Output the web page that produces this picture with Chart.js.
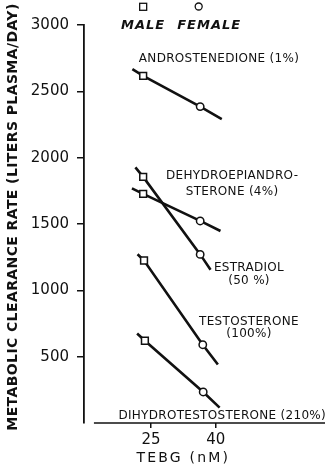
<!DOCTYPE html>
<html>
<head>
<meta charset="utf-8">
<script src="https://cdn.jsdelivr.net/npm/chart.js@4.4.1/dist/chart.umd.min.js"></script>
<style>
  html, body { margin: 0; padding: 0; background: #fff; }
  canvas { display: block; }
</style>
</head>
<body>
<canvas id="mcr" width="329" height="469"></canvas>
<script>
// Steroids and their relative binding to TEBG
const compounds = ['Androstenedione', 'Dehydroepiandrosterone', 'Estradiol', 'Testosterone', 'Dihydrotestosterone'];
const compoundLabels = ['ANDROSTENEDIONE (1%)', 'DEHYDROEPIANDRO-\nSTERONE (4%)', 'ESTRADIOL\n(50 %)', 'TESTOSTERONE\n(100%)', 'DIHYDROTESTOSTERONE (210%)'];

// Mean TEBG (nM) and metabolic clearance rate (liters plasma/day)
const maleTebg   = [23.2, 23.2, 23.2, 23.4, 23.6];
const femaleTebg = [36.4, 36.4, 36.4, 37.0, 37.1];
const maleMcr    = [2617, 1727, 1855, 1225, 620];
const femaleMcr  = [2385, 1523, 1271, 590, 234];

// Extent of each fitted line
const lineStartTebg = [20.7, 20.6, 21.4, 21.9, 21.8];
const lineStartMcr  = [2668, 1768, 1927, 1272, 675];
const lineEndTebg   = [41.4, 41.1, 38.8, 40.5, 40.9];
const lineEndMcr    = [2290, 1447, 1155, 441, 116];

// Axis ticks
const xTicks = [25, 40];
const yTicks = [500, 1000, 1500, 2000, 2500, 3000];

// Where each compound name sits (data units): x, y per text line, alignment
const labelPlacement = [
  { x: 22.2, ys: [2746], align: 'left' },
  { x: 43.8, ys: [1861, 1742], align: 'center' },
  { x: 47.7, ys: [1169, 1074], align: 'center' },
  { x: 47.7, ys: [766, 671], align: 'center' },
  { x: 41.5, ys: [53], align: 'center' }
];

const INK = '#111';
const FONT = '"DejaVu Sans", "Liberation Sans", sans-serif';

const datasets = compounds.map((name, i) => ({
  label: name,
  data: [
    { x: lineStartTebg[i], y: lineStartMcr[i] },
    { x: maleTebg[i], y: maleMcr[i] },
    { x: femaleTebg[i], y: femaleMcr[i] },
    { x: lineEndTebg[i], y: lineEndMcr[i] }
  ],
  showLine: true,
  borderColor: INK,
  borderWidth: 2.6,
  pointStyle: ['circle', 'rect', 'circle', 'circle'],
  pointRadius: [0, 4.8, 3.7, 0],
  pointBackgroundColor: '#fff',
  pointBorderColor: INK,
  pointBorderWidth: 1.5,
  tension: 0
}));

function spaced(ctx, px) {
  if ('letterSpacing' in ctx) ctx.letterSpacing = px + 'px';
}

const decorations = {
  id: 'decorations',
  afterDatasetsDraw(chart) {
    const { ctx, chartArea, scales: { x, y } } = chart;
    ctx.save();
    ctx.fillStyle = INK;
    ctx.strokeStyle = INK;

    // x axis baseline, detached from the vertical axis
    ctx.lineWidth = 1.5;
    ctx.beginPath();
    ctx.moveTo(x.getPixelForValue(11.8), chartArea.bottom);
    ctx.lineTo(chartArea.right, chartArea.bottom);
    ctx.stroke();

    // compound names
    ctx.font = '12px ' + FONT;
    spaced(ctx, 0.3);
    ctx.textBaseline = 'middle';
    compoundLabels.forEach((txt, i) => {
      const p = labelPlacement[i];
      ctx.textAlign = p.align;
      txt.split('\n').forEach((line, k) => {
        ctx.fillText(line, x.getPixelForValue(p.x), y.getPixelForValue(p.ys[k]));
      });
    });

    // key: male square, female circle
    const mx = x.getPixelForValue(maleTebg[0]);
    const fx = x.getPixelForValue(femaleTebg[0]);
    ctx.lineWidth = 1.3;
    ctx.strokeRect(mx - 3.5, 3.3, 7, 7);
    ctx.beginPath();
    ctx.arc(fx - 1.5, 6.5, 3.5, 0, Math.PI * 2);
    ctx.stroke();
    ctx.font = 'italic bold 13px ' + FONT;
    spaced(ctx, 1);
    ctx.textAlign = 'center';
    ctx.fillText('MALE', mx, 26);
    ctx.fillText('FEMALE', fx + 9, 26);

    // axis titles
    ctx.font = '14px ' + FONT;
    spaced(ctx, 2.2);
    ctx.fillText('TEBG (nM)', x.getPixelForValue(32.5), chartArea.bottom + 35.5);

    ctx.save();
    ctx.translate(13, 217);
    ctx.rotate(-Math.PI / 2);
    ctx.font = 'bold 14px ' + FONT;
    spaced(ctx, 0.4);
    ctx.fillText('METABOLIC CLEARANCE RATE (LITERS PLASMA/DAY)', 0, 0);
    ctx.restore();

    ctx.restore();
  }
};

new Chart(document.getElementById('mcr'), {
  type: 'scatter',
  data: { datasets },
  options: {
    responsive: false,
    animation: false,
    layout: { padding: { left: 0, top: 25, right: 4, bottom: 0 } },
    plugins: { legend: { display: false }, tooltip: { enabled: false } },
    scales: {
      x: {
        type: 'linear',
        min: 9.5,
        max: 65.3,
        afterFit: s => { s.height = 46; },
        afterBuildTicks: s => { s.ticks = xTicks.map(v => ({ value: v })); },
        border: { display: false },
        grid: { drawOnChartArea: false, tickLength: 5, color: INK, lineWidth: 1.5 },
        ticks: { color: INK, padding: 3, font: { family: FONT, size: 15 }, maxRotation: 0, callback: v => String(v) }
      },
      y: {
        type: 'linear',
        min: 0,
        max: 3000,
        afterFit: s => { s.width = 84; },
        afterBuildTicks: s => { s.ticks = yTicks.map(v => ({ value: v })); },
        border: { display: true, color: INK, width: 1.8 },
        grid: { drawOnChartArea: false, tickLength: 7, color: INK, lineWidth: 1.5 },
        ticks: { color: INK, padding: 8, font: { family: FONT, size: 15 }, callback: v => String(v) }
      }
    }
  },
  plugins: [decorations]
});
</script>
</body>
</html>
